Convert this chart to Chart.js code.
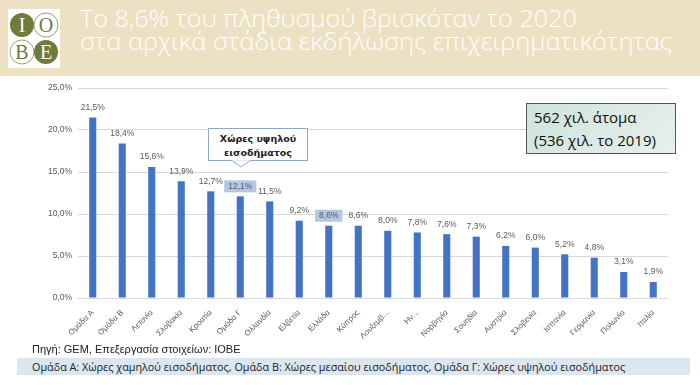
<!DOCTYPE html>
<html><head><meta charset="utf-8">
<script src="https://cdn.jsdelivr.net/npm/chart.js@4/dist/chart.umd.min.js"></script>
<style>
html,body{margin:0;padding:0;width:700px;height:385px;background:#fff;overflow:hidden;font-family:"Open Sans",sans-serif;}
#hdr{position:absolute;left:0;top:0;width:700px;height:76px;background:#EDE1C3;}
#logo{position:absolute;left:8px;top:9px;width:52px;height:59px;background:#fff;}
.tl{position:absolute;left:80px;color:#fff;font-family:"Open Sans";font-weight:300;font-size:24px;line-height:23px;white-space:nowrap;transform-origin:0 0;}
#wrap{position:absolute;left:0;top:76px;width:700px;height:270px;}
#callout{position:absolute;left:208px;top:128px;width:100px;height:33px;border:1px solid #8EA9C8;background:#fff;font-family:"DejaVu Sans";font-weight:bold;font-size:9.5px;text-align:center;line-height:14px;padding-top:3px;box-sizing:border-box;color:#222;}
#box{position:absolute;left:526px;top:103px;width:150px;height:51px;border:1px solid #555;background:linear-gradient(135deg,#CFE3DC,#E6F0EC);font-family:"Open Sans";font-size:15px;line-height:23px;padding:2px 0 0 7px;box-sizing:border-box;color:#111;}
#src{position:absolute;left:32px;top:343px;font-family:"Liberation Sans Narrow","Liberation Sans";font-size:11px;color:#222;}
#band{position:absolute;left:17px;top:358px;width:673px;height:17px;background:#DCE6F0;font-family:"Open Sans";font-size:10.8px;line-height:17px;color:#222;padding-left:15px;box-sizing:border-box;white-space:nowrap;}
</style></head>
<body>
<div id="hdr">
  <div id="logo"><svg width="52" height="59" viewBox="0 0 52 59">
    <circle cx="14" cy="16" r="12" fill="#6E7B3B"/><text x="14" y="23" font-family="Liberation Serif" font-size="20" fill="#fff" text-anchor="middle">I</text>
    <circle cx="38" cy="16" r="12" fill="#fff" stroke="#9AA07A" stroke-width="1"/><text x="38" y="23" font-family="Liberation Serif" font-size="20" fill="#6E7B3B" text-anchor="middle">O</text>
    <circle cx="14" cy="43" r="12" fill="#fff" stroke="#9AA07A" stroke-width="1"/><text x="14" y="50" font-family="Liberation Serif" font-size="20" fill="#6E7B3B" text-anchor="middle">B</text>
    <circle cx="38" cy="43" r="12" fill="#6E7B3B"/><text x="38" y="50" font-family="Liberation Serif" font-size="20" fill="#fff" text-anchor="middle">E</text>
  </svg></div>
  <div class="tl" id="t1" style="top:6px">Το 8,6% του πληθυσμού βρισκόταν το 2020</div>
  <div class="tl" id="t2" style="top:29px">στα αρχικά στάδια εκδήλωσης επιχειρηματικότητας</div>
</div>
<div id="wrap"><canvas id="c"></canvas></div>
<div id="callout">Χώρες υψηλού<br>εισοδήματος
<svg style="position:absolute;left:22px;top:31px" width="20" height="8"><polygon points="0,0 10,7 20,0" fill="#fff" stroke="#8EA9C8"/><rect x="1" y="-1" width="18" height="1.5" fill="#fff"/></svg></div>
<div id="box">562 χιλ. άτομα<br>(536 χιλ. το 2019)</div>
<div id="src">Πηγή: GEM, Επεξεργασία στοιχείων: ΙΟΒΕ</div>
<div id="band">Ομάδα Α: Χώρες χαμηλού εισοδήματος, Ομάδα Β: Χώρες μεσαίου εισοδήματος, Ομάδα Γ: Χώρες υψηλού εισοδήματος</div>
<script>
const categories = ["Ομάδα Α","Ομάδα Β","Λετονία","Σλοβακία","Κροατία","Ομάδα Γ","Ολλανδία","Ελβετία","Ελλάδα","Κύπρος","Λουξεμβ...","Ην...","Νορβηγία","Σουηδία","Αυστρία","Σλοβενία","Ισπανία","Γερμανία","Πολωνία","Ιταλία"];
const values = [21.5,18.4,15.6,13.9,12.7,12.1,11.5,9.2,8.6,8.6,8.0,7.8,7.6,7.3,6.2,6.0,5.2,4.8,3.1,1.9];
const highlighted = ["Ομάδα Γ","Ελλάδα"];
const yTicks = [0,5,10,15,20,25];

// fit title lines to the widths seen in the reference
[['t1',497],['t2',592]].forEach(([id,w])=>{
  const el = document.getElementById(id);
  const s = w / el.getBoundingClientRect().width;
  el.style.transform = 'scaleX(' + s + ')';
});

const fmt = v => v.toFixed(1).replace('.', ',') + '%';
const FONT = '"Liberation Sans Narrow","Liberation Sans",sans-serif';

const labelPlugin = {
  id:'vlabels',
  afterDatasetsDraw(chart){
    const ctx = chart.ctx;
    const meta = chart.getDatasetMeta(0);
    ctx.save();
    ctx.font = '8.5px ' + FONT;
    ctx.textAlign = 'center';
    ctx.textBaseline = 'middle';
    meta.data.forEach((bar,i)=>{
      const t = fmt(values[i]);
      const y = bar.y - 10;
      if (highlighted.includes(categories[i])) {
        const w = ctx.measureText(t).width + 8;
        ctx.fillStyle = '#B4C7E7';
        ctx.fillRect(bar.x - w/2, y - 6, w, 12);
      }
      ctx.fillStyle = '#595959';
      ctx.fillText(t, bar.x, y);
    });
    ctx.restore();
  }
};

new Chart(document.getElementById('c'), {
  type:'bar',
  data:{labels:categories, datasets:[{data:values, backgroundColor:'#4472C4', barPercentage:0.24, categoryPercentage:1}]},
  options:{
    responsive:true, maintainAspectRatio:false, animation:false,
    layout:{padding:{top:12,right:32,bottom:0,left:0}},
    plugins:{legend:{display:false}, tooltip:{enabled:false}},
    scales:{
      y:{min:0,max:25,
        afterFit(s){ s.width = 78; },
        afterBuildTicks(s){ s.ticks = yTicks.map(v=>({value:v})); },
        grid:{color:'#D9D9D9', drawTicks:false},
        border:{display:false},
        ticks:{padding:6,color:'#595959',font:{family:FONT,size:8.5},callback:v=>fmt(v)}
      },
      x:{
        afterFit(s){ s.height = 48; },
        grid:{display:false},
        border:{color:'#D9D9D9'},
        ticks:{color:'#595959',font:{family:FONT,size:8},maxRotation:45,minRotation:45,autoSkip:false,padding:2}
      }
    }
  },
  plugins:[labelPlugin]
});
</script>
</body></html>
